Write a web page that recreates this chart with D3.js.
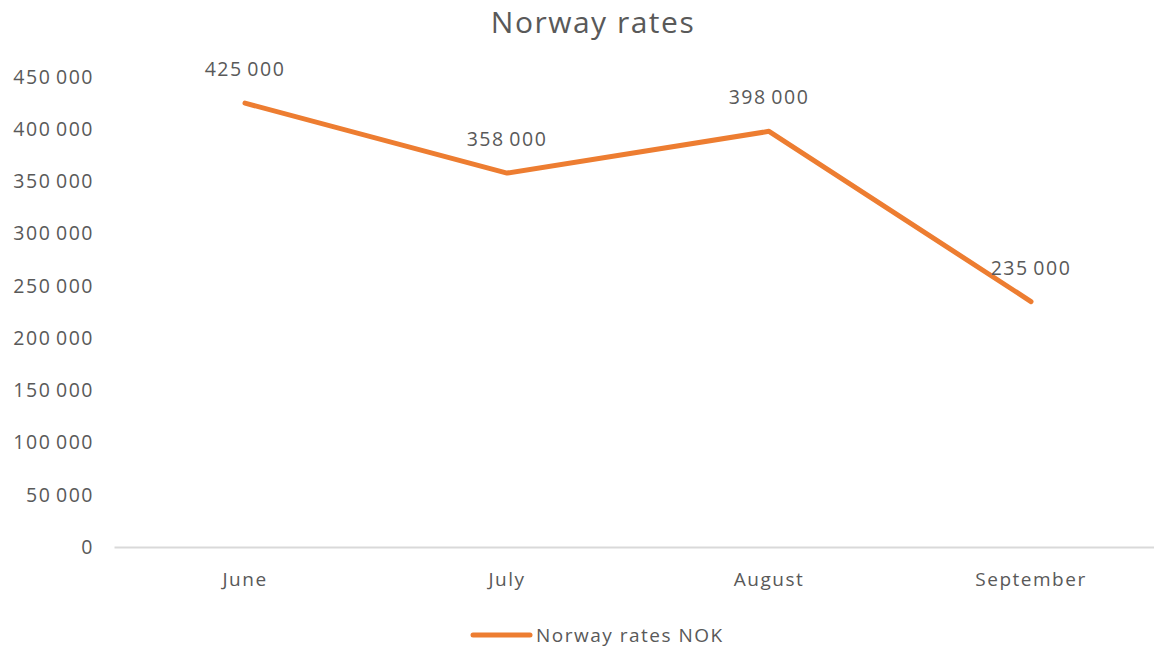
<!DOCTYPE html>
<html><head><meta charset="utf-8">
<script src="https://cdn.jsdelivr.net/npm/d3@7"></script>
<style>
body{margin:0;background:#fff;}
text{font-family:"Open Sans",sans-serif;fill:#595959;letter-spacing:1.5px;}
</style></head>
<body><svg id="c" width="1154" height="650"></svg>
<script>
const months = ["June","July","August","September"];
const rates = [425000,358000,398000,235000];
const yTicks = [0,50000,100000,150000,200000,250000,300000,350000,400000,450000];
const seriesName = "Norway rates NOK";
const title = "Norway rates";

const svg = d3.select("#c");
const fmt = d3.formatLocale({decimal:",",thousands:"\u2009",grouping:[3],currency:["","kr"]}).format(",d");
const x = d3.scaleBand().domain(months).range([114,1162]);
const y = d3.scaleLinear().domain([0,450000]).range([547,77]);

svg.append("text").attr("x",593).attr("y",33).attr("text-anchor","middle")
  .style("font-size","30px").text(title);

const ya = svg.append("g").attr("transform","translate(94,0)")
  .call(d3.axisLeft(y).tickValues(yTicks).tickFormat(fmt).tickSize(0).tickPadding(0));
ya.select(".domain").remove();
ya.selectAll("text").style("font-size","19.5px").style("font-family","'Open Sans',sans-serif").attr("fill","#595959");

const xa = svg.append("g").attr("transform","translate(0,547)")
  .call(d3.axisBottom(x).tickSize(0).tickPadding(26));
xa.select(".domain").attr("stroke","#d9d9d9").attr("stroke-width",2);
xa.selectAll("text").style("font-size","19px").style("font-family","'Open Sans',sans-serif").attr("fill","#595959");

const line = d3.line().x((d,i)=>x(months[i])+x.bandwidth()/2).y(d=>y(d));
svg.append("path").datum(rates).attr("d",line).attr("fill","none")
  .attr("stroke","#ed7d31").attr("stroke-width",5).attr("stroke-linecap","round").attr("stroke-linejoin","round");

svg.selectAll(".lbl").data(rates).enter().append("text").attr("class","lbl")
  .attr("x",(d,i)=>x(months[i])+x.bandwidth()/2).attr("y",d=>y(d)-27)
  .attr("text-anchor","middle").style("font-size","19.5px").text(d=>fmt(d));

svg.append("line").attr("x1",473).attr("x2",530).attr("y1",635).attr("y2",635)
  .attr("stroke","#ed7d31").attr("stroke-width",5).attr("stroke-linecap","round");
svg.append("text").attr("x",536).attr("y",642).style("font-size","19px").text(seriesName);
</script></body></html>
